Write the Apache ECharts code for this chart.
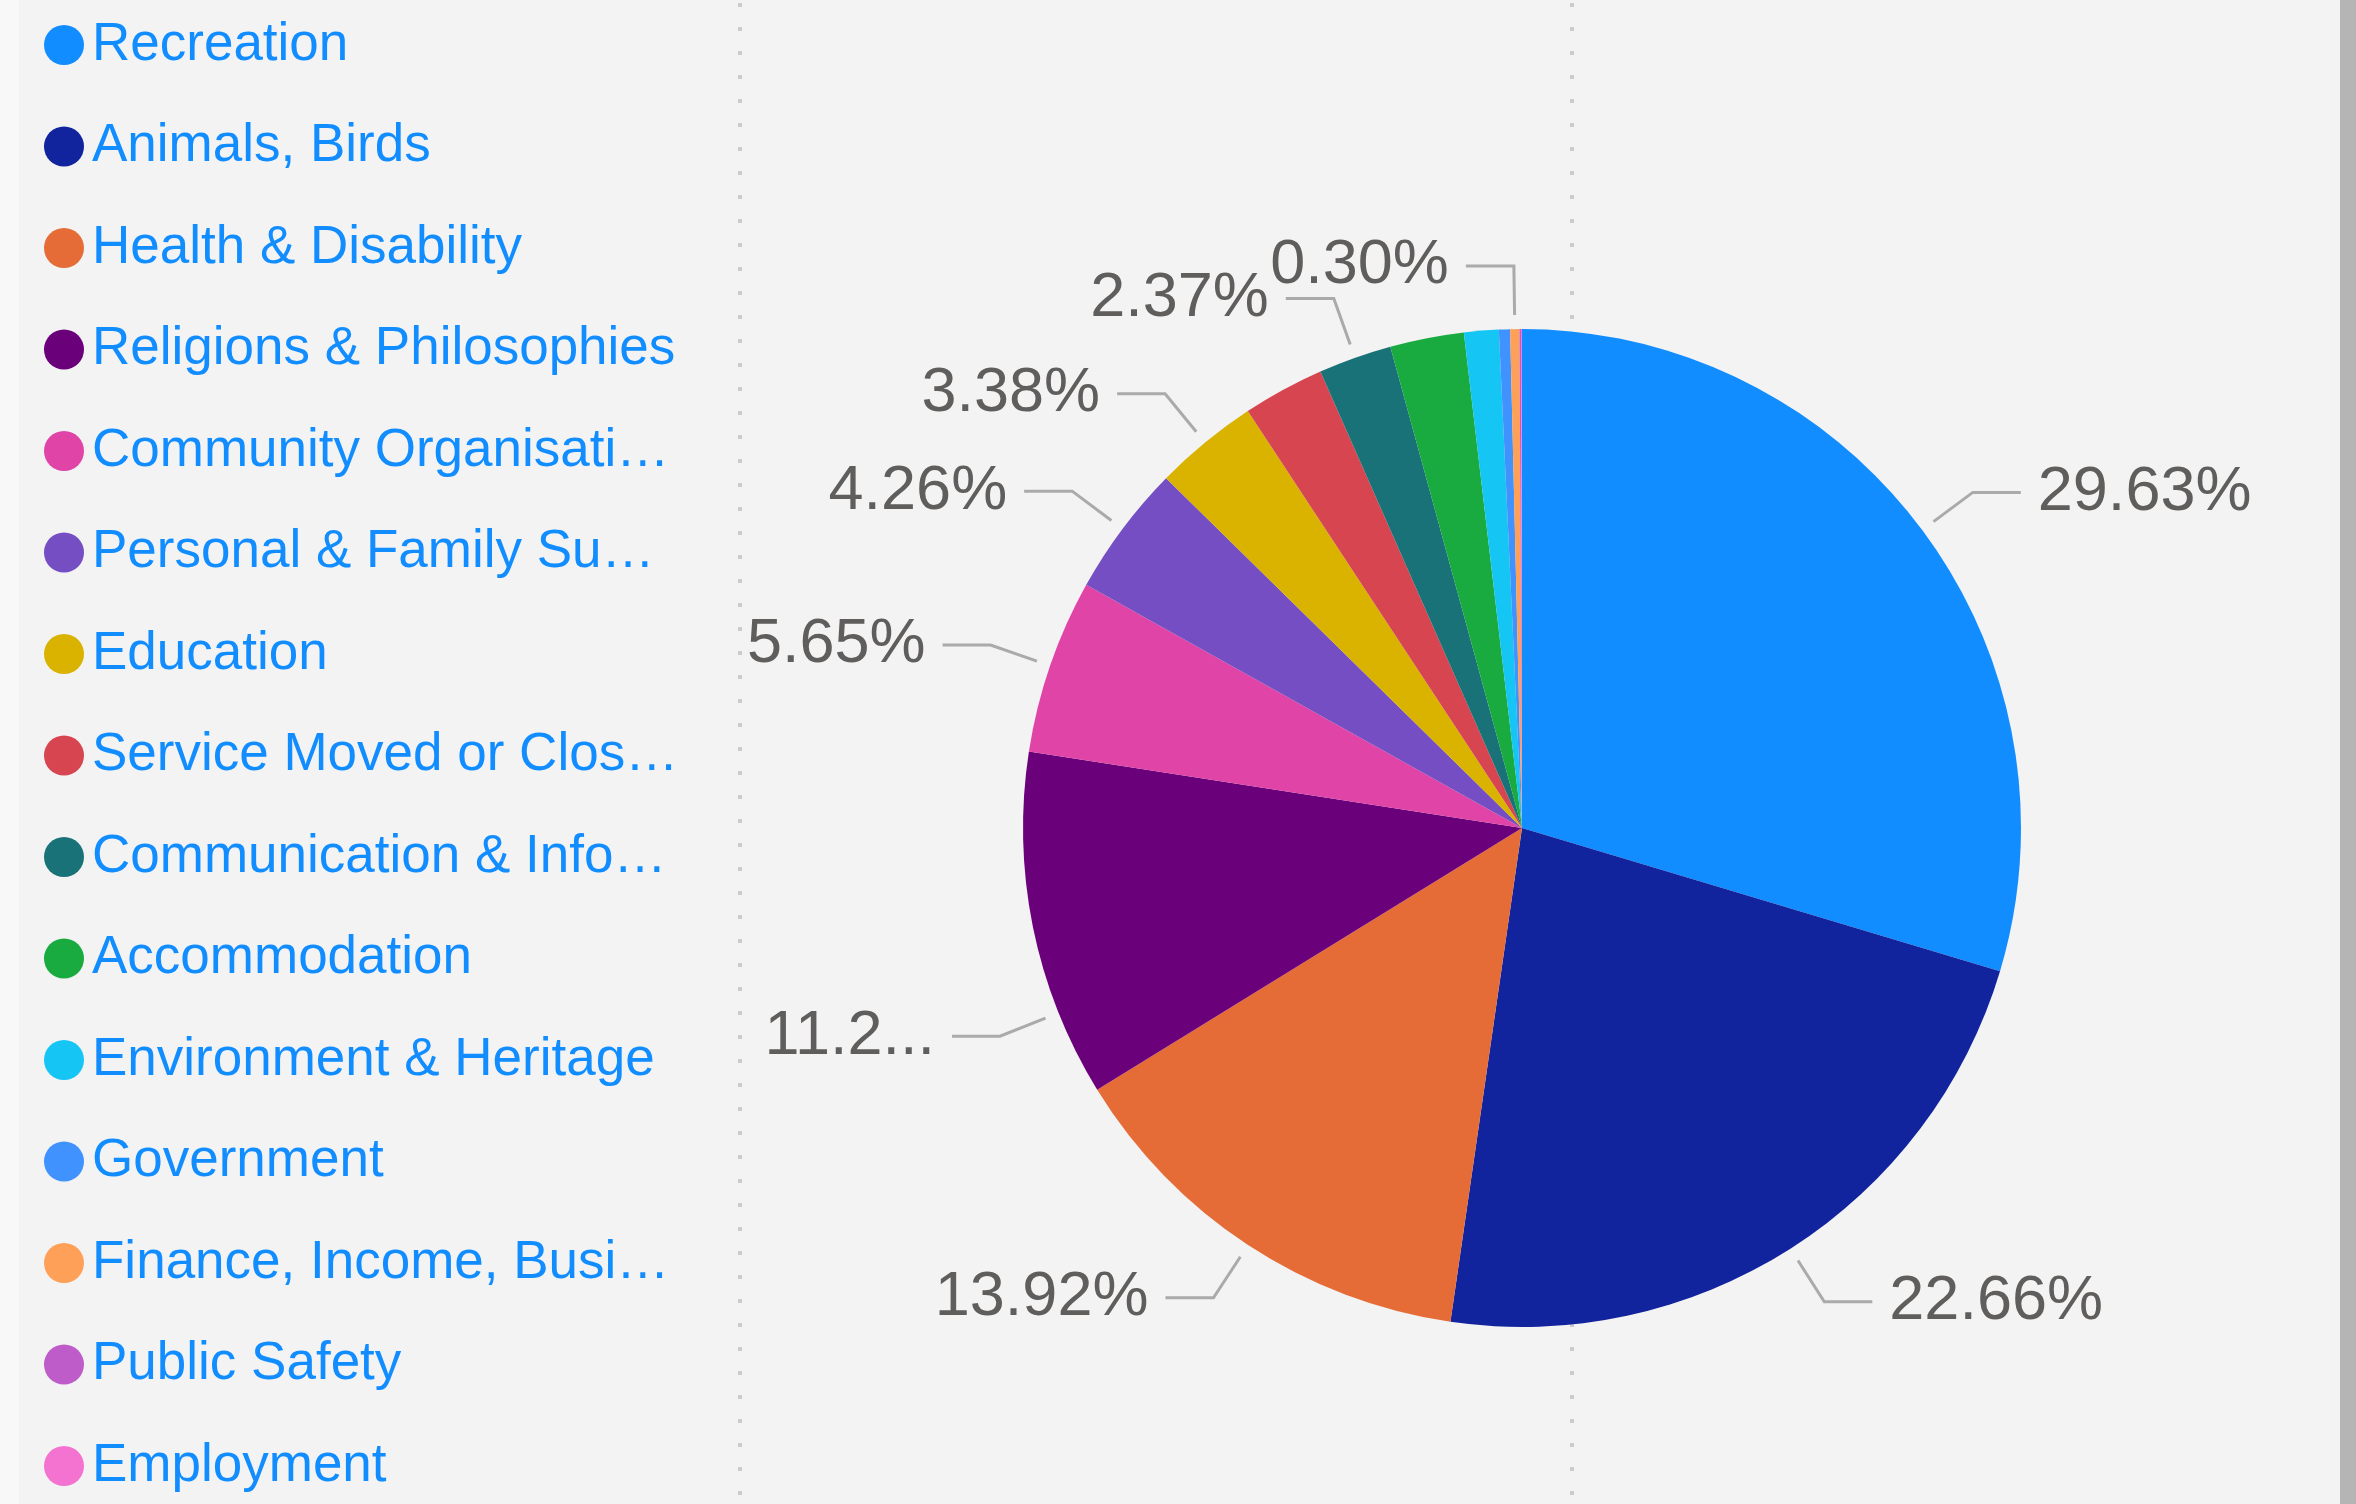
<!DOCTYPE html>
<html>
<head>
<meta charset="utf-8">
<script src="https://cdn.jsdelivr.net/npm/echarts@6/dist/echarts.min.js"></script>
<style>
  html, body { margin: 0; padding: 0; background: #f3f3f3; }
  #pieChart { width: 2356px; height: 1504px; }
</style>
</head>
<body>
<div id="pieChart"></div>
<script>
// categories in legend order (clockwise from 12 o'clock)
const categories = [
  'Recreation',
  'Animals, Birds',
  'Health & Disability',
  'Religions & Philosophies',
  'Community Organisations',
  'Personal & Family Support',
  'Education',
  'Service Moved or Closed',
  'Communication & Information',
  'Accommodation',
  'Environment & Heritage',
  'Government',
  'Finance, Income, Business',
  'Public Safety',
  'Employment'
];
// share of services, %
const shares = [29.63, 22.66, 13.92, 11.24, 5.65, 4.26, 3.38, 2.64, 2.37, 2.39, 1.12, 0.36, 0.30, 0.05, 0.03];
// slices whose label is not drawn
const unlabeled = ['Service Moved or Closed', 'Accommodation', 'Environment & Heritage', 'Government', 'Public Safety', 'Employment'];

const palette = ['#118dff', '#12239e', '#e66c37', '#6b007b', '#e044a7', '#744ec2', '#d9b300', '#d64550',
  '#197278', '#1aab40', '#15c6f4', '#4092ff', '#ffa058', '#be5dc9', '#f472d0'];
const font = '"Liberation Sans", Arial, sans-serif';
const pieCenter = [1522, 828];

// cut legend names that are too long, like the original visual does
let ctx = document.createElement('canvas').getContext('2d');
ctx.font = '53px ' + font;
function fitName(name) {
  let maxW = 589;
  if (ctx.measureText(name).width <= maxW) return name;
  let s = name;
  while (s.length > 1 && ctx.measureText(s + '…').width > maxW) s = s.slice(0, -1);
  return s + '…';
}

let pieData = categories.map(function (name, i) {
  return { name: name, value: shares[i] };
});

// same slices again, only to carry the outside labels (their lines start a bit off the pie)
let shortLabel = categories.indexOf('Religions & Philosophies');
let labelData = categories.map(function (name, i) {
  let item = { name: name, value: shares[i] };
  if (unlabeled.indexOf(name) >= 0) {
    item.label = { show: false };
    item.labelLine = { show: false };
  }
  if (i === shortLabel) {
    item.label = { width: 195, overflow: 'truncate', ellipsis: '...' };
  }
  return item;
});

// the 11.2... label sits lower in the original: swing its line round the pie
function moveLabel(params) {
  let pts = params.labelLinePoints;
  if (params.dataIndex !== shortLabel || !pts) return { hideOverlap: false };
  let cx = pieCenter[0], cy = pieCenter[1];
  let shift = 97;
  let r0 = Math.hypot(pts[0][0] - cx, pts[0][1] - cy);
  let r1 = Math.hypot(pts[1][0] - cx, pts[1][1] - cy);
  let a = Math.PI - Math.asin((pts[1][1] + shift - cy) / r1);
  let p0 = [cx + r0 * Math.cos(a), cy + r0 * Math.sin(a)];
  let p1 = [cx + r1 * Math.cos(a), cy + r1 * Math.sin(a)];
  let p2 = [p1[0] + pts[2][0] - pts[1][0], p1[1]];
  return {
    hideOverlap: false,
    dx: p2[0] - pts[2][0],
    dy: p2[1] - pts[2][1],
    labelLinePoints: [p0, p1, p2]
  };
}

// dotted guide lines in the background
function dotted(x) {
  return {
    type: 'line', z: -1, silent: true,
    shape: { x1: x, y1: 3, x2: x, y2: 1504 },
    style: { stroke: '#cbcbcb', lineWidth: 4, lineDash: [4, 20] }
  };
}

let pieChart = echarts.init(document.getElementById('pieChart'));
pieChart.setOption({
  backgroundColor: '#f3f3f3',
  animation: false,
  color: palette,
  graphic: [
    { type: 'rect', z: -2, silent: true, shape: { x: 0, y: 0, width: 19, height: 1504 }, style: { fill: '#f8f8f8' } },
    { type: 'rect', z: -2, silent: true, shape: { x: 2340, y: 0, width: 16, height: 1504 }, style: { fill: '#b5b5b5' } },
    dotted(740),
    dotted(1572)
  ],
  legend: {
    orient: 'vertical',
    left: 44,
    top: 15,
    padding: 0,
    icon: 'circle',
    itemWidth: 40,
    itemHeight: 40,
    itemGap: 41.5,
    data: categories,
    formatter: fitName,
    textStyle: {
      color: '#118dff',
      fontSize: 53,
      fontFamily: font,
      lineHeight: 60,
      padding: [0, 0, 0, 3]
    }
  },
  series: [{
    type: 'pie',
    name: 'slices',
    center: pieCenter,
    radius: 499,
    startAngle: 90,
    clockwise: true,
    data: pieData,
    label: { show: false },
    labelLine: { show: false }
  }, {
    type: 'pie',
    name: 'labels',
    center: pieCenter,
    radius: 513,
    startAngle: 90,
    clockwise: true,
    silent: true,
    z: 1,
    avoidLabelOverlap: false,
    labelLayout: moveLabel,
    data: labelData,
    itemStyle: { color: 'rgba(0,0,0,0)' },
    label: {
      formatter: function (p) { return p.percent.toFixed(2) + '%'; },
      color: '#605e5c',
      fontSize: 63,
      fontFamily: font,
      distanceToLabelLine: 17
    },
    labelLine: {
      length: 49,
      length2: 48,
      lineStyle: { color: '#aaaaaa', width: 3 }
    }
  }]
});
</script>
</body>
</html>
